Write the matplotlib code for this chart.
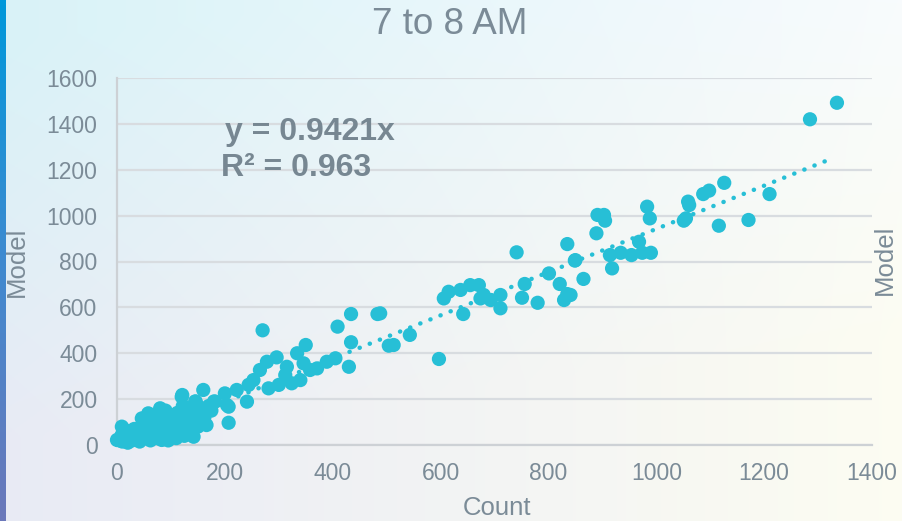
import numpy as np
import matplotlib
matplotlib.use("Agg")
import matplotlib.pyplot as plt
from matplotlib.colors import LinearSegmentedColormap

plt.rcParams['font.family'] = ['Liberation Sans', 'DejaVu Sans']

# ---------------- data ----------------
title = "7 to 8 AM"
x_label = "Count"
y_label = "Model"
slope = 0.9421
r2 = 0.963
x_ticks = [0, 200, 400, 600, 800, 1000, 1200, 1400]
y_ticks = [0, 200, 400, 600, 800, 1000, 1200, 1400, 1600]

count_low = [5, 8, 10, 12, 15, 18, 20, 22, 25, 28, 30, 32, 35, 38, 40, 42, 45, 48,
             50, 52, 55, 58, 60, 62, 65, 68, 70, 72, 75, 78, 80, 82, 85, 88, 90, 92,
             95, 98, 100, 102, 105, 108, 110, 112, 115, 118, 120, 122, 125, 128, 130,
             132, 135, 138, 140, 142, 145, 148, 150, 152, 155, 158, 160, 162, 166, 170,
             175, 180, 0, 9, 46, 58, 83, 121, 146, 182]
model_low = [20, 40, 15, 70, 30, 50, 10, 60, 35, 20, 55, 70, 40, 25, 60, 15, 80, 45,
             30, 95, 65, 110, 40, 20, 75, 120, 50, 100, 30, 140, 160, 85, 60, 110, 150, 40,
             20, 130, 75, 90, 50, 115, 30, 140, 95, 60, 210, 170, 40, 130, 100,
             160, 75, 145, 120, 36, 190, 110, 80, 165, 90, 140, 240, 120, 87, 170,
             150, 190, 22, 80, 116, 138, 22, 218, 189, 189]

count_mid = [200, 204, 207, 207, 222, 241, 244, 253, 265, 270, 278, 281, 296, 300,
             312, 315, 324, 334, 340, 346, 350, 358, 371, 389, 405, 409, 430, 434, 434,
             483, 488, 504, 513, 543, 597]
model_mid = [225, 174, 167, 97, 240, 189, 262, 283, 327, 500, 363, 247, 382, 262,
             305, 341, 269, 400, 283, 356, 436, 327, 334, 363, 378, 516, 341, 448, 571,
             571, 574, 433, 436, 480, 375]

count_high = [606, 615, 637, 642, 655, 671, 674, 680, 693, 711, 711, 741, 751, 756,
              780, 801, 821, 829, 835, 835, 841, 849, 850, 865, 889, 891, 903, 905,
              914, 918, 934, 954, 968, 974, 983, 988, 990, 1051, 1055, 1059, 1061,
              1087, 1098, 1116, 1126, 1171, 1210, 1285, 1335]
model_high = [639, 668, 676, 571, 697, 697, 639, 654, 632, 654, 596, 840, 642, 702,
              620, 748, 702, 632, 658, 876, 654, 804, 806, 724, 923, 1003, 1003, 978,
              828, 770, 838, 828, 886, 838, 1039, 988, 838, 978, 988, 1061, 1046,
              1094, 1109, 956, 1143, 981, 1094, 1420, 1492]

counts = np.array(count_low + count_mid + count_high, dtype=float)
models = np.array(model_low + model_mid + model_high, dtype=float)

# ---------------- figure ----------------
W, H = 903, 521
fig = plt.figure(figsize=(W / 100, H / 100), dpi=100)

# background gradient
yy, xx = np.mgrid[0:1:200j, 0:1:300j]
c_tl = np.array([0.85, 0.95, 0.97])
c_tr = np.array([0.97, 0.985, 1.00])
c_bl = np.array([0.91, 0.92, 0.96])
c_br = np.array([0.99, 0.99, 0.95])
top = c_tl[None, None, :] * (1 - xx[..., None]) + c_tr[None, None, :] * xx[..., None]
bot = c_bl[None, None, :] * (1 - xx[..., None]) + c_br[None, None, :] * xx[..., None]
wy = np.clip(yy * 1.3 + xx * 0.25 - 0.1, 0, 1)[..., None]
bg = top * (1 - wy) + bot * wy
bgax = fig.add_axes([0, 0, 1, 1], zorder=-10)
bgax.imshow(bg, aspect='auto', extent=[0, 1, 0, 1], origin='upper')
bgax.axis('off')

# left accent bar
barax = fig.add_axes([0, 0, 6 / W, 1], zorder=-5)
cm = LinearSegmentedColormap.from_list('bar', ['#0098DA', '#3F8AD0', '#6B78BA'])
barax.imshow(np.linspace(0, 1, 100)[:, None], aspect='auto', cmap=cm, extent=[0, 1, 0, 1])
barax.axis('off')

left = 117 / W
right = 872 / W
bottom = (H - 445) / H
top_ = (H - 78) / H
ax = fig.add_axes([left, bottom, right - left, top_ - bottom])
ax.set_facecolor('none')

point_color = '#27BFD6'
text_color = '#7B8B97'
grid_color = '#D8DCE0'

ax.set_xlim(0, 1400)
ax.set_ylim(0, 1600)
ax.set_xticks(x_ticks)
ax.set_yticks(y_ticks)
ax.set_xticklabels([str(t) for t in x_ticks])
ax.set_yticklabels([str(t) for t in y_ticks])
ax.tick_params(axis='both', length=0, labelsize=16.5, colors=text_color)
ax.tick_params(axis='x', pad=12)
ax.tick_params(axis='y', pad=14)
ax.yaxis.grid(True, color=grid_color, linewidth=1.6)
ax.set_axisbelow(True)
for s in ['top', 'right']:
    ax.spines[s].set_visible(False)
ax.spines['left'].set_color('#CDD1D5')
ax.spines['bottom'].set_color('#CDD1D5')
ax.spines['left'].set_linewidth(1.6)
ax.spines['bottom'].set_linewidth(1.6)

# trendline
xs = np.array([0, counts.max() - 5])
ax.plot(xs, slope * xs, color=point_color, linewidth=3.2,
        linestyle=(0, (0.05, 2.4)), dash_capstyle='round', zorder=2, clip_on=False)

ax.scatter(counts, models, s=105, color=point_color, edgecolors='none', zorder=3,
           clip_on=False)

# equation text
fig.text(310 / W, 1 - 132 / H, f"y = {slope}x", ha='center', va='center',
         fontsize=23, fontweight='bold', color='#778792')
fig.text(296 / W, 1 - 168 / H, f"R² = {r2}", ha='center', va='center',
         fontsize=23, fontweight='bold', color='#778792')

fig.text(450 / W, 1 - 24 / H, title, ha='center', va='center',
         fontsize=26.5, color=text_color)
fig.text(497 / W, 1 - 508 / H, x_label, ha='center', va='center',
         fontsize=18.5, color=text_color)
fig.text(17 / W, 1 - 262 / H, y_label, ha='center', va='center', rotation=90,
         fontsize=18.5, color=text_color)
fig.text(885 / W, 1 - 260 / H, y_label, ha='center', va='center', rotation=90,
         fontsize=18.5, color=text_color)

fig.savefig('out.png', dpi=100)
